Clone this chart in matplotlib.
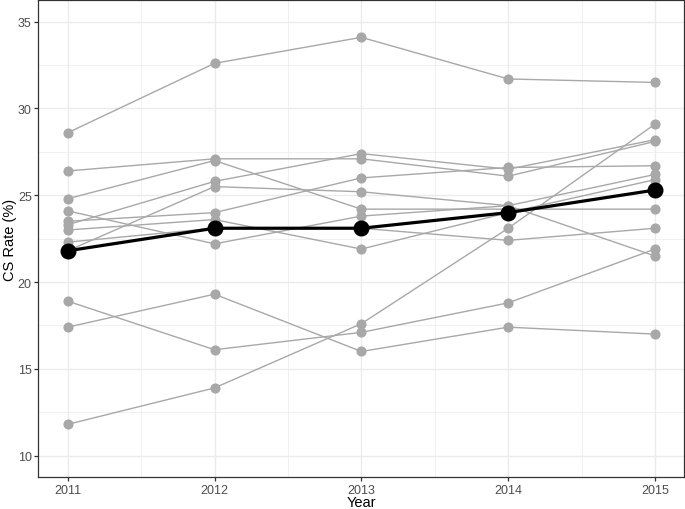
import matplotlib
matplotlib.use("Agg")
import matplotlib.pyplot as plt
from matplotlib.ticker import MultipleLocator

plt.rcParams['font.family'] = ['Liberation Sans', 'DejaVu Sans']

years = [2011, 2012, 2013, 2014, 2015]

# individual series (grey)
series = {
    "A": [28.6, 32.6, 34.1, 31.7, 31.5],
    "B": [11.8, 13.9, 17.6, 23.1, 29.1],
    "C": [17.4, 19.3, 16.0, 17.4, 17.0],
    "D": [18.9, 16.1, 17.1, 18.8, 21.9],
    "E": [26.4, 27.1, 27.1, 26.1, 28.1],
    "F": [24.8, 27.0, 24.2, 24.2, 24.2],
    "G": [24.1, 22.2, 23.8, 24.4, 26.2],
    "H": [23.3, 25.8, 27.4, 26.5, 28.2],
    "I": [21.8, 25.5, 25.2, 24.4, 21.5],
    "J": [23.5, 24.0, 26.0, 26.6, 26.7],
    "K": [23.0, 23.6, 21.9, 24.0, 25.9],
    "L": [22.3, 23.1, 23.1, 22.4, 23.1],
}

# overall series (black)
overall = [21.8, 23.1, 23.1, 24.0, 25.3]

W, H = 685, 510
fig = plt.figure(figsize=(W / 100, H / 100), dpi=100)
left, right, top, bottom = 38.3, 684.4, 1.0, 478.3
ax = fig.add_axes([left / W, 1 - bottom / H, (right - left) / W, (bottom - top) / H])

grey_line = "#A8A8A8"
for name, vals in series.items():
    ax.plot(years, vals, color=grey_line, lw=1.0, marker="o", ms=6.3,
            mfc=grey_line, mec=grey_line, zorder=2)

ax.plot(years, overall, color="black", lw=2.3, marker="o", ms=10.5,
        mfc="black", mec="black", zorder=3)

ax.set_xlim(2010.8, 2015.2)
ax.set_ylim(8.75, 36.25)
ax.set_xticks(years)
ax.set_xticklabels([str(y) for y in years])
ax.yaxis.set_major_locator(MultipleLocator(5))
ax.yaxis.set_minor_locator(MultipleLocator(2.5))
ax.xaxis.set_minor_locator(MultipleLocator(0.5))

ax.grid(which="major", color="#EBEBEB", lw=1.0, zorder=0)
ax.grid(which="minor", color="#EBEBEB", lw=0.5, zorder=0)
ax.set_axisbelow(True)

for s in ax.spines.values():
    s.set_color("#333333")
    s.set_linewidth(0.9)

ax.tick_params(which="major", length=2.75, width=0.9, color="#333333",
               labelsize=9, labelcolor="#4D4D4D", pad=2)
ax.tick_params(which="minor", length=0)

fig.text(361 / W, 1 - 503 / H, "Year", fontsize=10.5, color="black",
         ha="center", va="center")
fig.text(10 / W, 1 - ((top + bottom) / 2) / H, "CS Rate (%)", fontsize=10.5,
         color="black", ha="center", va="center", rotation=90)

fig.savefig("out.png", dpi=100)
